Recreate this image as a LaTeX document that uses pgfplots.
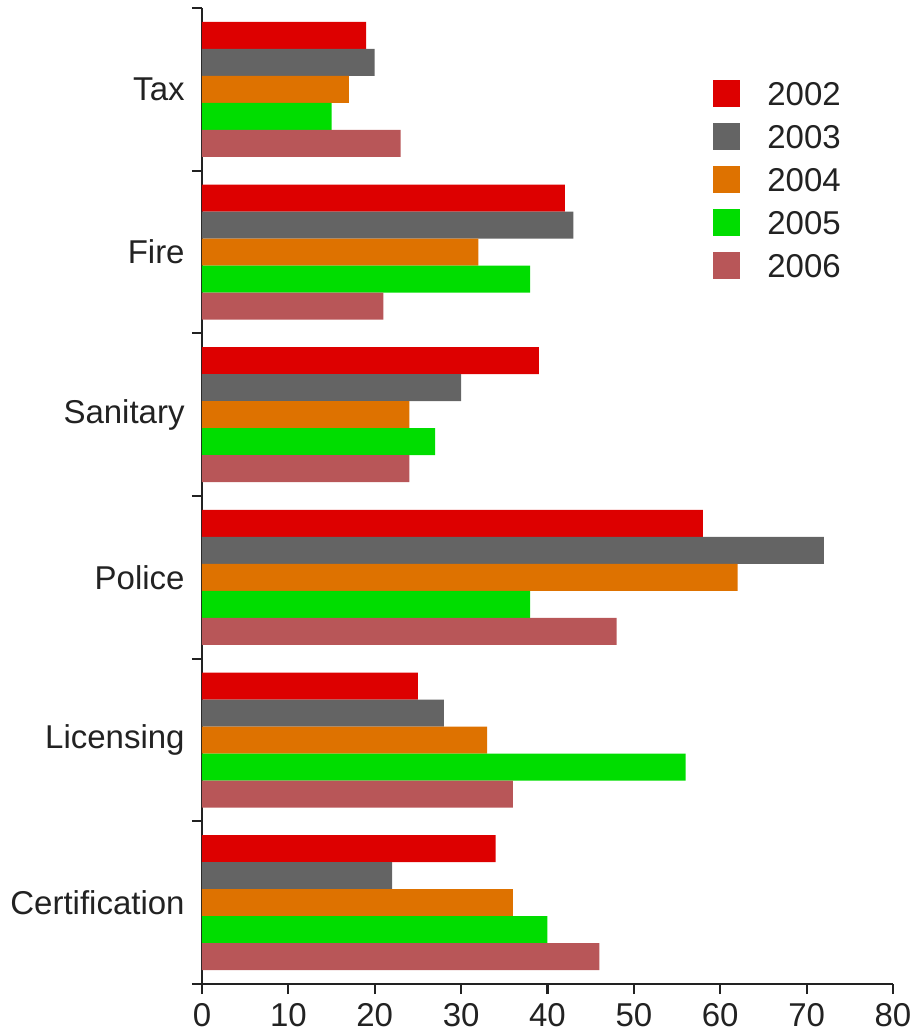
\documentclass[border=0pt]{standalone}
\usepackage{pgfplots}
\pgfplotsset{compat=1.18}
\usepackage{fontspec}
\setmainfont{Liberation Sans}
\definecolor{c2002}{RGB}{221,0,0}
\definecolor{c2003}{RGB}{100,100,100}
\definecolor{c2004}{RGB}{222,114,0}
\definecolor{c2005}{RGB}{0,221,0}
\definecolor{c2006}{RGB}{184,86,88}
\definecolor{txt}{RGB}{34,34,34}
\begin{document}
\fontsize{16.5}{20}\selectfont
\begin{tikzpicture}
\begin{axis}[
  name=ax,
  scale only axis,
  width=345.5pt, height=488pt,
  xbar=0pt, bar width=13.5pt,
  xmin=0, xmax=80, ymin=-0.5, ymax=5.5,
  axis x line*=bottom, axis y line*=left,
  axis line style={-, line width=1.3pt, color=txt},
  xtick={0,10,...,80}, minor xtick={0,10,...,80},
  ytick={0,...,5},
  yticklabels={Certification,Licensing,Police,Sanitary,Fire,Tax},
  minor ytick={-0.5,0.5,...,5.5},
  major tick length=0pt, minor tick length=5pt,
  tick align=outside,
  tick style={line width=1.1pt, color=txt},
  ticklabel style={font=\fontsize{16.5}{20}\selectfont, text=txt},
  yticklabel style={xshift=-3pt},
  xticklabel style={yshift=-4pt},
  /pgf/number format/assume math mode=true,
  legend style={draw=none, fill=none, inner sep=0pt,
    at={(axis description cs:0.7395,1)}, anchor=north west, yshift=-35pt,
    font=\fontsize{16.5}{20}\selectfont, text=txt,
    nodes={inner sep=0pt, text height=13.5pt, text depth=0pt},
    row sep=7.25pt,
    /tikz/every odd column/.append style={column sep=13.5pt}},
  legend cell align=left,
  legend image code/.code={\path[#1,draw=none] (0pt,-7.5pt) rectangle (13.5pt,6pt);},
]
\addplot[fill=c2002, draw=none, bar shift=27pt] coordinates {(34,0) (25,1) (58,2) (39,3) (42,4) (19,5)};
\addplot[fill=c2003, draw=none, bar shift=13.5pt] coordinates {(22,0) (28,1) (72,2) (30,3) (43,4) (20,5)};
\addplot[fill=c2004, draw=none, bar shift=0pt] coordinates {(36,0) (33,1) (62,2) (24,3) (32,4) (17,5)};
\addplot[fill=c2005, draw=none, bar shift=-13.5pt] coordinates {(40,0) (56,1) (38,2) (27,3) (38,4) (15,5)};
\addplot[fill=c2006, draw=none, bar shift=-27pt] coordinates {(46,0) (36,1) (48,2) (24,3) (21,4) (23,5)};
\legend{2002,2003,2004,2005,2006}
\end{axis}
\pgfresetboundingbox
\path (ax.south west) ++(-101pt,-25.5pt) rectangle ++(458.5pt,517.5pt);
\end{tikzpicture}
\end{document}
